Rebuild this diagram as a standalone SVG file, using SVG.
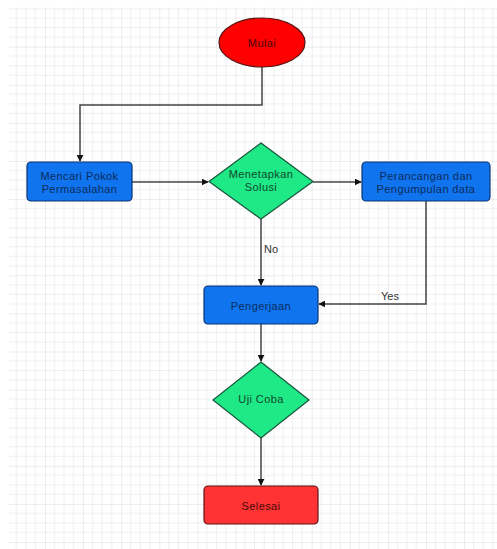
<svg xmlns="http://www.w3.org/2000/svg" width="497" height="549" viewBox="0 0 497 549">
  <defs>
    <pattern id="grid" patternUnits="userSpaceOnUse" x="45" y="8.6" width="38.1" height="38.1">
      <path d="M9.525 0V38.1M19.05 0V38.1M28.575 0V38.1M0 9.525H38.1M0 19.05H38.1M0 28.575H38.1" stroke="#efefef" stroke-width="1" fill="none"/>
      <path d="M0 0V38.1M0 0H38.1" stroke="#dadada" stroke-width="1" fill="none"/>
    </pattern>
    <marker id="arr" viewBox="0 0 10 10" refX="9" refY="5" markerWidth="7" markerHeight="7" orient="auto" markerUnits="userSpaceOnUse">
      <path d="M0 0L10 5L0 10z" fill="#111"/>
    </marker>
  </defs>
  <style>
    .lbl { font-family: "Liberation Sans", Arial, sans-serif; font-size: 11px; letter-spacing: 0.4px; text-anchor: middle; dominant-baseline: central; }
    .blue { fill: #0f74ee; stroke: #0b3470; stroke-width: 1.2; }
    .bt { fill: #0c2c5c; }
    .green { fill: #1fe887; stroke: #16553a; stroke-width: 1.2; }
    .gt { fill: #0f4a2c; }
    .red { stroke: #5a1414; stroke-width: 1.2; }
    .rt { fill: #4a0a0a; }
    .edge { fill: none; stroke: #444; stroke-width: 1.5; }
    .el { font-family: "Liberation Sans", Arial, sans-serif; font-size: 11px; fill: #333; }
  </style>
  <rect width="497" height="549" fill="#fff"/>
  <rect x="9" y="7" width="488" height="542" fill="url(#grid)"/>

  <g id="connectors">
    <path class="edge" d="M262 67V105H80V161" marker-end="url(#arr)"/>
    <path class="edge" d="M132 182H208" marker-end="url(#arr)"/>
    <path class="edge" d="M313 182H361" marker-end="url(#arr)"/>
    <path class="edge" d="M261 219V285" marker-end="url(#arr)"/>
    <text class="el" x="264" y="253">No</text>
    <path class="edge" d="M426 201V304H319" marker-end="url(#arr)"/>
    <text class="el" x="381" y="300">Yes</text>
    <path class="edge" d="M261 324V361" marker-end="url(#arr)"/>
    <path class="edge" d="M261 438V485" marker-end="url(#arr)"/>
  </g>

  <g id="mulai">
    <ellipse class="red" cx="262" cy="42.5" rx="43" ry="24.5" fill="#ff0000"/>
    <text class="lbl rt" x="262" y="43">Mulai</text>
  </g>
  <g id="mencari">
    <rect class="blue" x="27" y="162" width="105" height="39" rx="4"/>
    <text class="lbl bt" x="79.5" y="175.7">Mencari Pokok</text>
    <text class="lbl bt" x="79.5" y="188.5">Permasalahan</text>
  </g>
  <g id="menetapkan">
    <polygon class="green" points="261,143 313,181.5 261,219 209,181.5"/>
    <text class="lbl gt" x="261" y="174">Menetapkan</text>
    <text class="lbl gt" x="261" y="187">Solusi</text>
  </g>
  <g id="perancangan">
    <rect class="blue" x="362" y="162" width="128" height="39" rx="4"/>
    <text class="lbl bt" x="426" y="175.7">Perancangan dan</text>
    <text class="lbl bt" x="426" y="188.5">Pengumpulan data</text>
  </g>
  <g id="pengerjaan">
    <rect class="blue" x="204" y="286" width="114" height="38" rx="4"/>
    <text class="lbl bt" x="261" y="306">Pengerjaan</text>
  </g>
  <g id="ujicoba">
    <polygon class="green" points="261,362 309,400 261,438 213,400"/>
    <text class="lbl gt" x="261" y="399">Uji Coba</text>
  </g>
  <g id="selesai">
    <rect class="red" x="204" y="486" width="114" height="38" rx="4" fill="#ff3333"/>
    <text class="lbl rt" x="261" y="506">Selesai</text>
  </g>
</svg>
